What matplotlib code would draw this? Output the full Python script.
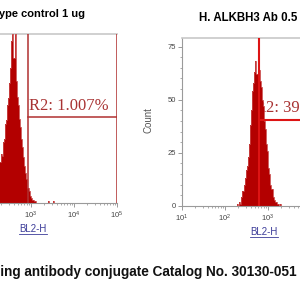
import matplotlib
matplotlib.use("Agg")
import matplotlib.pyplot as plt
import numpy as np
from matplotlib.lines import Line2D
from matplotlib.ticker import FuncFormatter, LogLocator, MultipleLocator

plt.rcParams["font.family"] = ["Liberation Sans", "DejaVu Sans"]

# histogram data (log10 bins, 0.025 decade wide)
BIN_STEP = 0.025
iso_start = 1.767
iso_counts = [1, 2, 3, 4, 5, 6, 7, 8, 9, 10,
              11, 13, 14, 15, 17, 18, 20, 21, 22, 23,
              24, 29, 28, 36, 38, 47, 49, 58, 62, 71,
              80, 96, 108, 86, 102, 72, 63, 58, 50, 45,
              38, 33, 27, 22, 18, 14, 9, 7, 4, 3,
              2, 2, 1, 1, 0, 0, 0, 0, 0, 0,
              0, 0, 0, 0, 0, 1, 0, 0, 0, 0, 1]
ab_start = 2.256
ab_counts = [0, 1, 0, 2, 1, 4, 7, 10, 13, 17,
             19, 23, 29, 38, 45, 54, 58, 63, 68, 62,
             69, 64, 59, 56, 50, 47, 40, 36, 29, 26,
             18, 15, 10, 8, 4, 3, 2, 2, 1, 1, 0, 1, 0]

titles = ["Isotype control 1 ug", "H. ALKBH3 Ab 0.5 ug"]
gate_labels = ["R2: 1.007%", "R2: 39.35%"]
gate_x = [10 ** 2.93, 10 ** 2.79]
gate_y = [51, 40.6]
label_x = [10 ** 2.95, 10 ** 2.70]
y_limits = [100, 79]
caption = "Staining antibody conjugate Catalog No. 30130-051"

fig = plt.figure(figsize=(3, 3), dpi=100)
fig.patch.set_facecolor("white")

ax_iso = fig.add_axes([-55 / 300, 1 - 203 / 300, 172 / 300, 169 / 300])
ax_ab = fig.add_axes([182 / 300, 1 - 206 / 300, 172 / 300, 168 / 300])


def log_label(v, pos):
    return r"$\mathregular{10^{%d}}$" % round(np.log10(v))


underline_texts = []
for i, (ax, start, counts) in enumerate(
    [(ax_iso, iso_start, iso_counts), (ax_ab, ab_start, ab_counts)]
):
    edges = 10 ** (start + BIN_STEP * np.arange(len(counts) + 1))
    ax.stairs(counts, edges, fill=True, color="#b30000", zorder=2)
    ax.stairs(counts, edges, color="#c84646", lw=0.6, zorder=3)

    ax.set_xscale("log")
    ax.set_xlim(10, 1e5)
    ax.set_ylim(0, y_limits[i])
    ax.xaxis.set_major_locator(LogLocator(base=10, numticks=10))
    ax.xaxis.set_minor_locator(LogLocator(base=10, subs=np.arange(2, 10), numticks=10))
    ax.xaxis.set_major_formatter(FuncFormatter(log_label))

    for side in ["left", "bottom"]:
        ax.spines[side].set_color("#9a9a9a")
        ax.spines[side].set_linewidth(0.8)
    ax.spines["top"].set_color("#c8c8c8")
    ax.spines["top"].set_linewidth(1.2)
    ax.spines["right"].set_visible(False)
    ax.tick_params(which="major", direction="out", length=3, width=0.6,
                   color="#8a8a8a", labelsize=5.5, labelcolor="#444444", pad=1.5)
    ax.tick_params(which="minor", direction="out", length=1.5, width=0.5,
                   color="#8a8a8a")

    # gate R2
    line_color = "#b03030" if i == 0 else "#dd1414"
    lw = 1.1 if i == 0 else 1.5
    ax.axvline(gate_x[i], color=line_color, lw=lw, zorder=4)
    ax.plot([gate_x[i], 1e5], [gate_y[i], gate_y[i]], color=line_color, lw=lw, zorder=4)
    ax.axvline(1e5, color=line_color, lw=lw, zorder=4)
    ax.text(label_x[i], gate_y[i] + 1.5, gate_labels[i], family="Liberation Serif",
            fontsize=12, color="#a83232", ha="left", va="bottom", zorder=1)

    t = ax.text(0.512 if i == 0 else 0.477, -0.155, "BL2-H", transform=ax.transAxes,
                ha="center", va="center", fontsize=7, color="#3c3c99")
    underline_texts.append(t)

ax_iso.set_title(titles[0], fontsize=8, fontweight="bold", pad=12, x=0.505)
fig.text(199 / 300, 1 - 18 / 300, titles[1], ha="left", va="center",
         fontsize=8.3, fontweight="bold")

ax_iso.set_yticks([])
ax_iso.spines["left"].set_visible(False)
ax_ab.set_yticks([0, 25, 50, 75])
ax_ab.yaxis.set_minor_locator(MultipleLocator(5))
ax_ab.set_ylabel("Count", fontsize=7, color="#555555")
ax_ab.yaxis.set_label_coords(-0.163, 0.51)

fig.text(297 / 300, 1 - 272 / 300, caption, ha="right", va="center",
         fontsize=9.8, fontweight="bold", color="#111111")

fig.canvas.draw()
renderer = fig.canvas.get_renderer()
for t in underline_texts:
    bb = t.get_window_extent(renderer).transformed(fig.transFigure.inverted())
    fig.add_artist(Line2D([bb.x0, bb.x1], [bb.y0, bb.y0], color="#3c3c99", lw=0.6))

fig.savefig("out.png", dpi=100)
